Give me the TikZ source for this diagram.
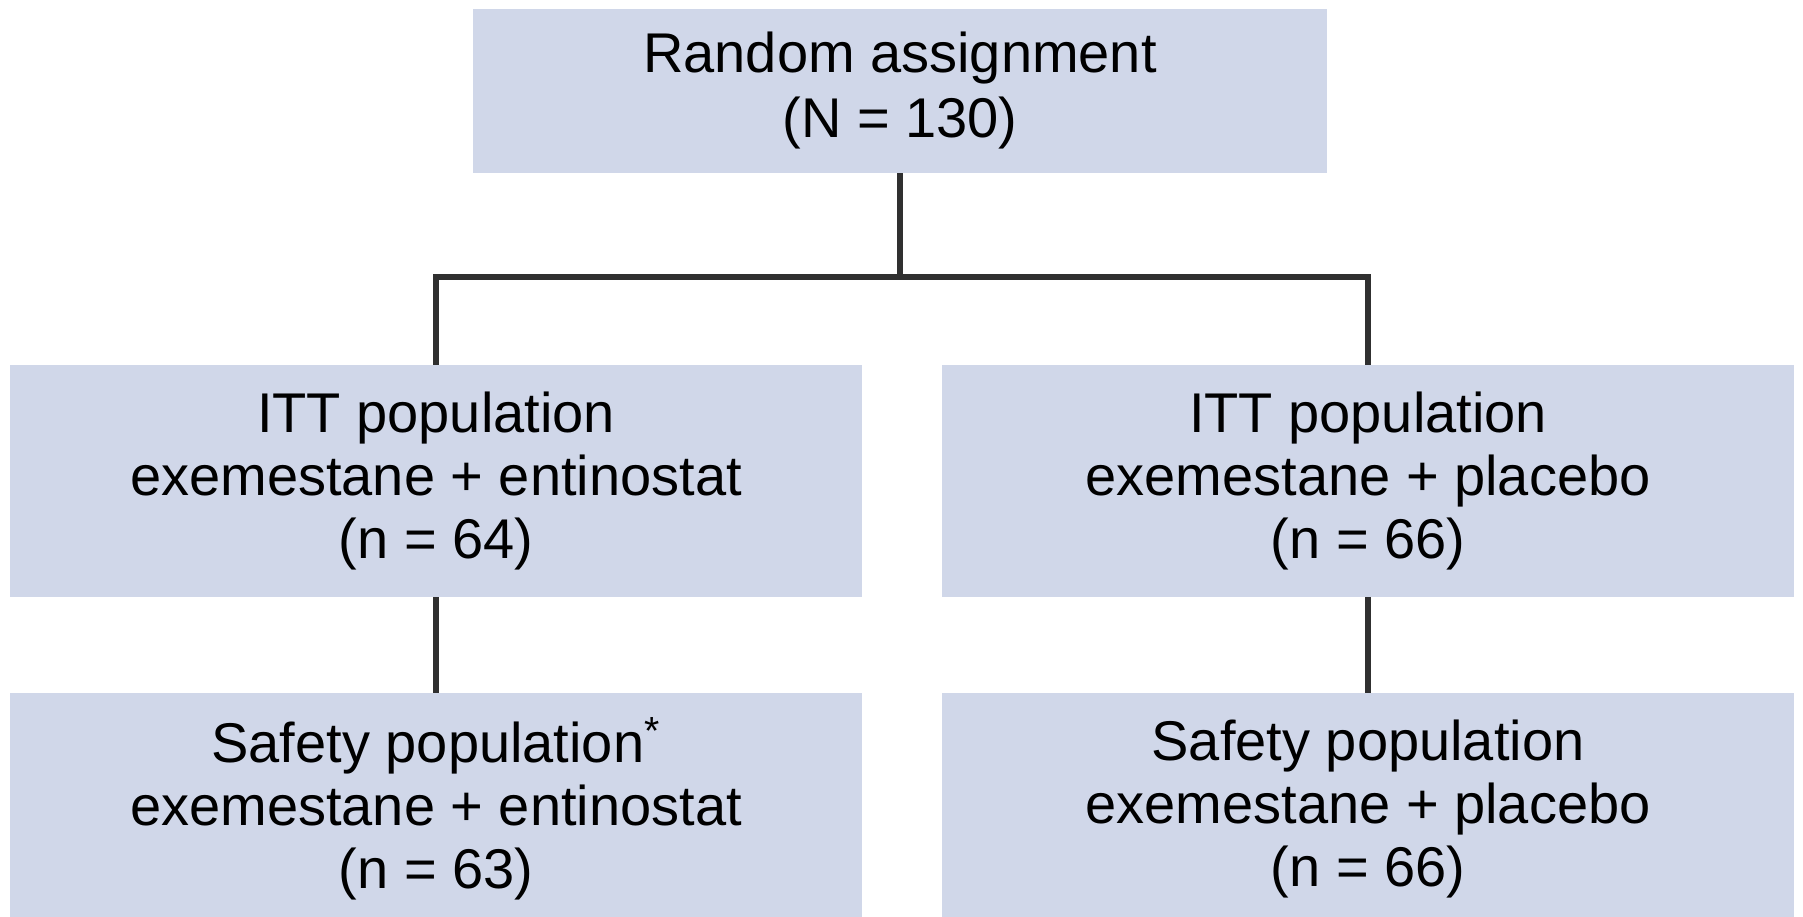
\documentclass[tikz,border=0pt]{standalone}
\usepackage{fontspec}
\setmainfont{Liberation Sans}
\definecolor{boxfill}{HTML}{D0D7E9}
\definecolor{linecol}{HTML}{303030}
\begin{document}
\begin{tikzpicture}[x=0.5pt,y=-0.5pt,
  box/.style={rectangle, fill=boxfill, draw=none, align=center, inner sep=0pt,
    font=\fontsize{28}{31.5}\selectfont},
  topbox/.style={box, minimum width=427pt, minimum height=82pt,
    font=\fontsize{28}{32.5}\selectfont},
  armbox/.style={box, minimum width=426pt, minimum height=116pt},
  conn/.style={draw=linecol, line width=2.6pt}]
\useasboundingbox (0,0) rectangle (1803,916);
\fill[white] (0,0) rectangle (1803,916);
\node[topbox] (top) at (900,91) {Random assignment\\(N = 130)};
\node[armbox] (ml) at (436,481) {ITT population\\exemestane + entinostat\\(n = 64)};
\node[armbox] (mr) at (1368,481) {ITT population\\exemestane + placebo\\(n = 66)};
\node[armbox] (sl) at (436,809) {Safety population\textsuperscript{*}\\exemestane + entinostat\\(n = 63)};
\node[armbox] (sr) at (1368,809) {Safety population\\exemestane + placebo\\(n = 66)};
\coordinate (split) at (900,277);
\draw[conn] (top.south) -- (split);
\draw[conn] (ml.north) |- (split) -| (mr.north);
\draw[conn] (ml.south) -- (sl.north);
\draw[conn] (mr.south) -- (sr.north);
\end{tikzpicture}
\end{document}
